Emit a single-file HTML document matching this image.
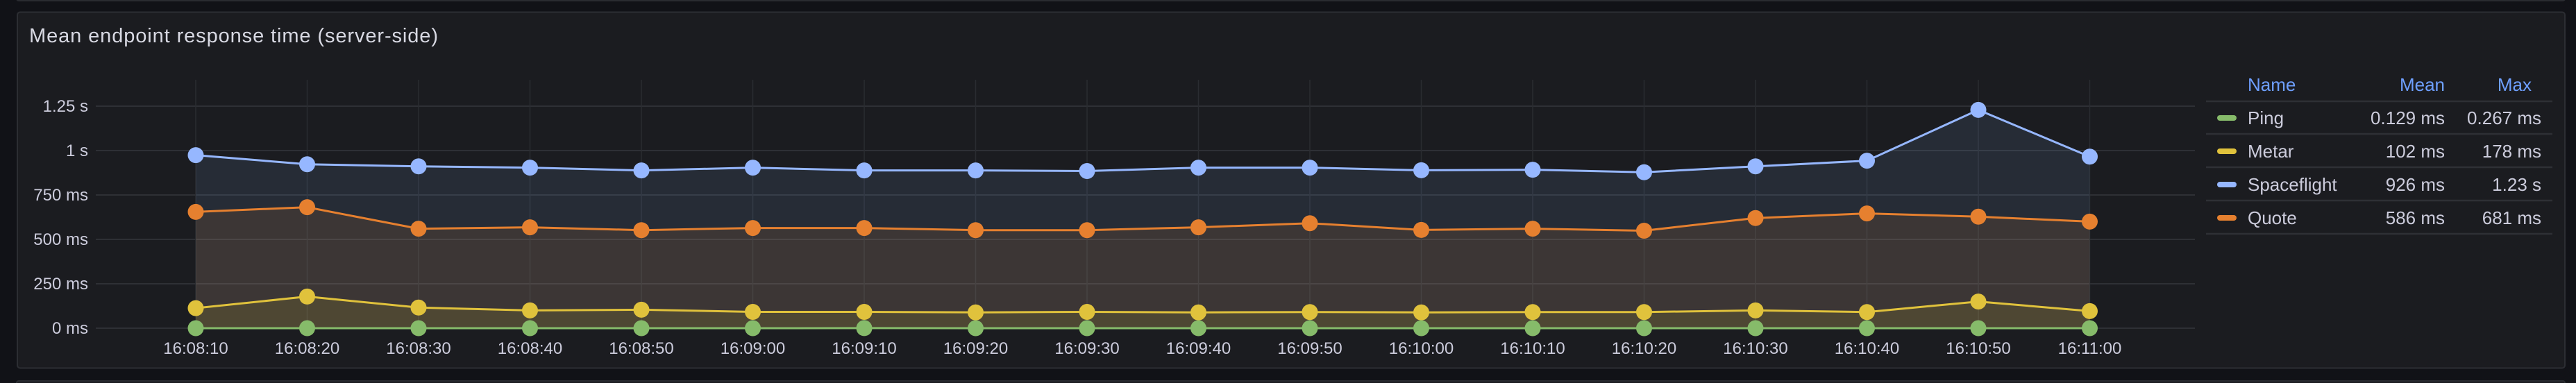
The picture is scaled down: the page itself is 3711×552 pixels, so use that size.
<!DOCTYPE html>
<html><head><meta charset="utf-8"><style>
html,body{margin:0;padding:0;background:#111217;}
svg{display:block;}
text{font-family:"Liberation Sans",sans-serif;}
</style></head><body>
<svg id="chart" width="3711" height="552" viewBox="0 0 3711 552" xmlns="http://www.w3.org/2000/svg">
<rect x="0" y="0" width="3711" height="552" fill="#111217"/>
<rect x="24" y="-20" width="3671" height="21" rx="3" fill="#1b1c20" stroke="#2a2c31" stroke-width="2"/>
<rect x="25" y="17.5" width="3670" height="513" rx="4" fill="#1b1c20" stroke="#2c2e33" stroke-width="2"/>
<rect x="24" y="549" width="3671" height="20" rx="3" fill="#1b1c20" stroke="#2a2c31" stroke-width="2"/>
<text x="42" y="61" font-size="29" fill="#d8d9e3" textLength="589">Mean endpoint response time (server-side)</text>
<g id="grid"></g><g id="fills"></g><g id="lines"></g><g id="axes"></g><g id="legend"></g>
</svg>
<script>
const times = ["16:08:10","16:08:20","16:08:30","16:08:40","16:08:50","16:09:00","16:09:10","16:09:20","16:09:30","16:09:40","16:09:50","16:10:00","16:10:10","16:10:20","16:10:30","16:10:40","16:10:50","16:11:00"];
const yTicks = [0,250,500,750,1000,1250];
const yTickLabels = ["0 ms","250 ms","500 ms","750 ms","1 s","1.25 s"];
const ping = [0.12,0.13,0.11,0.14,0.12,0.13,0.27,0.12,0.13,0.12,0.14,0.11,0.13,0.12,0.14,0.13,0.12,0.13];
const metar = [113,178,116,100,104,92,92,89,92,89,91,89,91,91,100,91,150,96];
const spaceflight = [974,923,911,904,888,904,888,888,885,904,904,889,892,878,911,943,1229,966];
const quote = [655,681,560,568,552,564,564,552,552,568,591,553,560,549,620,646,628,600];
const seriesNames = ["Ping","Metar","Spaceflight","Quote"];
const seriesMeans = ["0.129 ms","102 ms","926 ms","586 ms"];
const seriesMaxes = ["0.267 ms","178 ms","1.23 s","681 ms"];

const NS="http://www.w3.org/2000/svg";
const X0=282, DX=160.5, Y0=473, PXMS=64/250;
function xs(i){return X0+i*DX;}
function ys(v){return Y0-v*PXMS;}
function mk(tag,attrs,parent){const e=document.createElementNS(NS,tag);for(const k in attrs)e.setAttribute(k,attrs[k]);parent.appendChild(e);return e;}
const grid=document.getElementById('grid'),fills=document.getElementById('fills'),lines=document.getElementById('lines'),axes=document.getElementById('axes'),legend=document.getElementById('legend');

yTicks.forEach((v,i)=>{
  const l=mk('line',{x1:138,x2:3162,y1:ys(v),y2:ys(v),stroke:'#2e3035','stroke-width':2},grid);
  
  
  const t=mk('text',{x:127,y:ys(v)+8,'font-size':24,fill:'#ccccdc','text-anchor':'end'},axes);
  t.textContent=yTickLabels[i];
  
  
});
times.forEach((tm,i)=>{
  const l=mk('line',{x1:xs(i),x2:xs(i),y1:115,y2:Y0,stroke:'#2a2c31','stroke-width':1.5},grid);
  
  
  const t=mk('text',{x:xs(i),y:510,'font-size':24,fill:'#ccccdc','text-anchor':'middle'},axes);
  t.textContent=tm;
  
  
});

const series=[
  {key:'spaceflight',data:spaceflight,color:'#8ab8ff',dot:'#96b7ff'},
  {key:'quote',data:quote,color:'#ff9830',dot:'#e6802f'},
  {key:'metar',data:metar,color:'#fade2a',dot:'#e0c23c'},
  {key:'ping',data:ping,color:'#73bf69',dot:'#86bb6a'}
];
series.forEach(s=>{
  const pts=s.data.map((v,i)=>xs(i)+','+ys(v)).join(' ');
  const area=mk('polygon',{points:xs(0)+','+Y0+' '+pts+' '+xs(s.data.length-1)+','+Y0,fill:s.color,'fill-opacity':0.1},fills);
  
  
});
series.forEach(s=>{
  const pts=s.data.map((v,i)=>xs(i)+','+ys(v)).join(' ');
  const pl=mk('polyline',{points:pts,fill:'none',stroke:s.dot,'stroke-width':3},lines);
  
  
});
series.forEach(s=>{
  s.data.forEach((v,i)=>{
    const c=mk('circle',{cx:xs(i),cy:ys(v),r:11.5,fill:s.dot},lines);
    
    
  });
});

// legend
const hdr=[["Name",3238,'start'],["Mean",3522,'end'],["Max",3647,'end']];
hdr.forEach(h=>{
  const t=mk('text',{x:h[1],y:131,'font-size':26,fill:'#6e9fff','text-anchor':h[2]},legend);
  t.textContent=h[0];
  
  
});
mk('line',{x1:3178,x2:3677,y1:146,y2:146,stroke:'#2e3035','stroke-width':2.5},legend);
const legColors=['#86bb6a','#e0c23c','#96b7ff','#e6802f'];
seriesNames.forEach((n,i)=>{
  const cy=170+i*48;
  const g=mk('g',{},legend);
  
  
  mk('rect',{x:3194,y:cy-4,width:28,height:8,rx:4,fill:legColors[i]},g);
  const t1=mk('text',{x:3238,y:cy+9,'font-size':26,fill:'#ccccdc'},g);t1.textContent=n;
  const t2=mk('text',{x:3522,y:cy+9,'font-size':26,fill:'#ccccdc','text-anchor':'end'},g);t2.textContent=seriesMeans[i];
  const t3=mk('text',{x:3661,y:cy+9,'font-size':26,fill:'#ccccdc','text-anchor':'end'},g);t3.textContent=seriesMaxes[i];
  mk('line',{x1:3178,x2:3677,y1:cy+23,y2:cy+23,stroke:'#2e3035','stroke-width':2.5},g);
});
</script>
</body></html>
